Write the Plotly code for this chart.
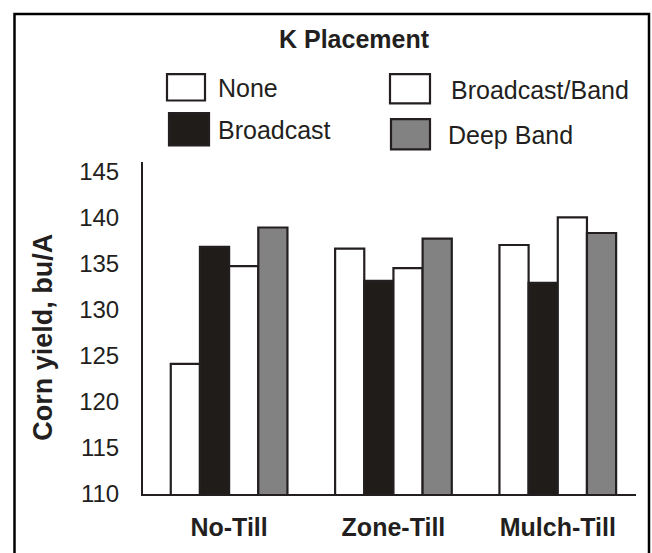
import plotly.graph_objects as go

# Corn yield (bu/A) by tillage system and K placement method
tillage = ["No-Till", "Zone-Till", "Mulch-Till"]
placements = ["None", "Broadcast", "Broadcast/Band", "Deep Band"]
none_yield = [124.1, 136.6, 137.0]
broadcast_yield = [136.8, 133.1, 132.9]
bcast_band_yield = [134.7, 134.5, 140.0]
deep_band_yield = [138.9, 137.7, 138.3]
y_ticks = [110, 115, 120, 125, 130, 135, 140, 145]

series = [none_yield, broadcast_yield, bcast_band_yield, deep_band_yield]
fills = ["#ffffff", "#201c1a", "#ffffff", "#828282"]
INK = "#231f20"
FONT = "Arial, 'Liberation Sans', sans-serif"

W, H = 652, 553
PL, PR, PT, PB = 143, 636, 162, 502


def fx(px):
    return (px - PL) / (PR - PL)


def fy(py):
    return (PB - py) / (PB - PT)


fig = go.Figure()
for name, vals, fill in zip(placements, series, fills):
    fig.add_trace(go.Bar(
        x=tillage, y=vals, name=name,
        marker=dict(color=fill, line=dict(color=INK, width=2.2)),
        showlegend=False,
    ))

# Legend drawn as boxes with labels, two columns
legend_items = [
    (placements[0], fills[0], (167, 72, 205, 99), (216, 86)),
    (placements[1], fills[1], (169, 112, 209, 145), (216, 129)),
    (placements[2], fills[2], (390, 72, 430, 102), (449, 88)),
    (placements[3], fills[3], (391, 118, 430, 149), (446, 134)),
]
shapes = []
annotations = []
for name, fill, (x0, y0, x1, y1), (tx, ty) in legend_items:
    shapes.append(dict(type="rect", xref="paper", yref="paper",
                       x0=fx(x0), x1=fx(x1), y0=fy(y1), y1=fy(y0),
                       fillcolor=fill, line=dict(color=INK, width=2.2)))
    annotations.append(dict(text=name, xref="paper", yref="paper",
                            x=fx(tx), y=fy(ty), xanchor="left", yanchor="middle",
                            showarrow=False, font=dict(family=FONT, size=25, color=INK)))

# outer frame
shapes.append(dict(type="rect", xref="paper", yref="paper",
                   x0=fx(14.5), x1=fx(649), y0=fy(565), y1=fy(10.5),
                   line=dict(color="#000000", width=2.5), fillcolor="rgba(0,0,0,0)"))

annotations.append(dict(text="<b>K Placement</b>", xref="paper", yref="paper",
                        x=fx(354), y=fy(36), xanchor="center", yanchor="middle",
                        showarrow=False, font=dict(family=FONT, size=25, color=INK)))
annotations.append(dict(text="<b>Corn yield, bu/A</b>", xref="paper", yref="paper",
                        x=fx(43), y=fy(342), xanchor="center", yanchor="middle",
                        textangle=-90, showarrow=False,
                        font=dict(family=FONT, size=27, color=INK)))

fig.update_layout(
    width=W, height=H,
    margin=dict(l=PL, r=W - PR, t=PT, b=H - PB),
    paper_bgcolor="white", plot_bgcolor="white",
    barmode="group", bargap=0.29, bargroupgap=0,
    shapes=shapes, annotations=annotations,
    font=dict(family=FONT, color=INK),
)
fig.update_xaxes(
    range=[-0.524, 2.476], showline=True, linecolor=INK, linewidth=2,
    ticks="", showgrid=False, zeroline=False,
    tickfont=dict(family=FONT, size=25, color=INK, weight="bold"),
    ticklabelstandoff=10,
)
fig.update_yaxes(
    range=[110, 146], tickvals=y_ticks, showline=True, linecolor=INK, linewidth=2,
    ticks="", showgrid=False, zeroline=False,
    tickfont=dict(family=FONT, size=24, color=INK),
    ticklabelstandoff=17,
)

fig.write_html("out.html")
